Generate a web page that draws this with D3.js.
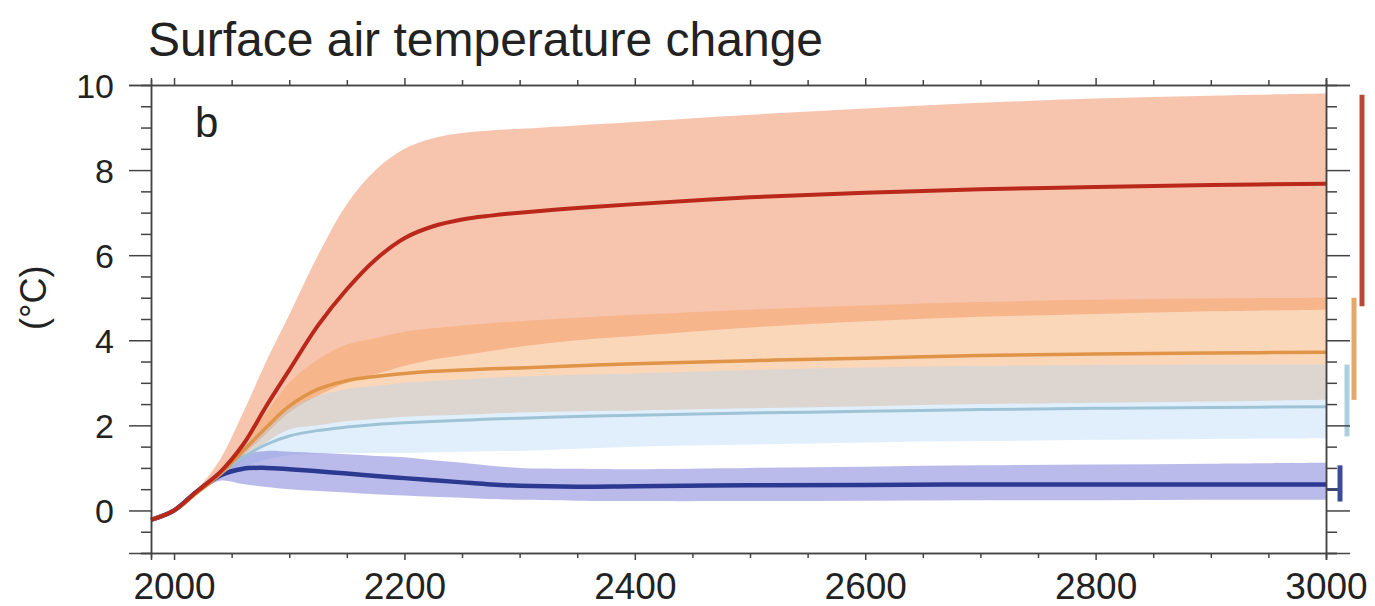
<!DOCTYPE html>
<html>
<head>
<meta charset="utf-8">
<script src="https://cdn.jsdelivr.net/npm/d3@7"></script>
<style>
  body { margin: 0; background: #fff; }
  text { font-family: "Liberation Sans", Arial, sans-serif; fill: #222; }
</style>
</head>
<body>
<div id="chart"></div>
<script>
// years shared by all scenarios
const years = [1980, 2000, 2020, 2040, 2060, 2080, 2100, 2125, 2150, 2175, 2200, 2225, 2250, 2275, 2300, 2350, 2400, 2500, 2600, 2700, 2800, 2900, 3000];

// red scenario
const redMean  = [-0.22, 0.0, 0.45, 0.9, 1.55, 2.45, 3.3, 4.35, 5.2, 5.9, 6.4, 6.68, 6.84, 6.93, 7.0, 7.11, 7.2, 7.36, 7.47, 7.55, 7.6, 7.65, 7.68];
const redHigh  = [-0.2, 0.02, 0.5, 1.2, 2.3, 3.5, 4.6, 6.0, 7.2, 8.0, 8.5, 8.75, 8.87, 8.93, 8.97, 9.05, 9.13, 9.3, 9.45, 9.58, 9.68, 9.75, 9.8];
const redLow   = [-0.25, -0.02, 0.4, 0.8, 1.3, 1.8, 2.3, 2.7, 3.0, 3.2, 3.4, 3.55, 3.65, 3.75, 3.85, 4.0, 4.1, 4.3, 4.45, 4.55, 4.62, 4.68, 4.72];
// orange scenario
const orangeMean = [-0.22, 0.0, 0.42, 0.85, 1.4, 1.95, 2.45, 2.85, 3.05, 3.15, 3.22, 3.27, 3.3, 3.33, 3.35, 3.4, 3.45, 3.52, 3.58, 3.64, 3.68, 3.7, 3.72];
const orangeHigh = [-0.2, 0.02, 0.47, 0.95, 1.6, 2.3, 3.0, 3.55, 3.9, 4.05, 4.2, 4.28, 4.35, 4.4, 4.45, 4.53, 4.6, 4.72, 4.82, 4.9, 4.95, 4.98, 5.0];
const orangeLow  = [-0.25, -0.02, 0.38, 0.75, 1.2, 1.6, 1.9, 2.0, 2.1, 2.15, 2.2, 2.23, 2.25, 2.28, 2.3, 2.33, 2.35, 2.4, 2.45, 2.5, 2.53, 2.56, 2.6];
// light blue scenario
const lblueMean = [-0.22, 0.0, 0.42, 0.85, 1.25, 1.55, 1.75, 1.88, 1.96, 2.02, 2.06, 2.09, 2.12, 2.15, 2.17, 2.21, 2.24, 2.29, 2.33, 2.37, 2.4, 2.42, 2.44];
const lblueHigh = [-0.2, 0.02, 0.47, 0.95, 1.5, 2.0, 2.4, 2.7, 2.85, 2.93, 3.0, 3.04, 3.08, 3.12, 3.15, 3.19, 3.22, 3.3, 3.36, 3.4, 3.42, 3.43, 3.43];
const lblueLow  = [-0.25, -0.02, 0.38, 0.75, 1.0, 1.2, 1.3, 1.33, 1.35, 1.35, 1.35, 1.37, 1.38, 1.39, 1.4, 1.45, 1.5, 1.55, 1.6, 1.63, 1.66, 1.68, 1.7];
// dark blue scenario
const dblueMean = [-0.22, 0.0, 0.45, 0.82, 0.98, 1.0, 0.97, 0.92, 0.87, 0.81, 0.76, 0.71, 0.66, 0.61, 0.58, 0.56, 0.57, 0.59, 0.6, 0.61, 0.61, 0.61, 0.61];
const dblueHigh = [-0.2, 0.02, 0.5, 0.95, 1.3, 1.4, 1.38, 1.35, 1.32, 1.28, 1.25, 1.18, 1.12, 1.05, 1.0, 0.98, 0.97, 1.0, 1.03, 1.06, 1.08, 1.1, 1.12];
const dblueLow  = [-0.25, -0.02, 0.4, 0.7, 0.62, 0.55, 0.5, 0.46, 0.42, 0.38, 0.35, 0.32, 0.3, 0.27, 0.25, 0.23, 0.22, 0.22, 0.23, 0.24, 0.24, 0.25, 0.25];

// ranges drawn as bars right of the plot (low, high)
const barLow  = [4.8, 2.6, 1.74, 0.21];
const barHigh = [9.77, 5.0, 3.43, 1.06];

const xTicks = [2000, 2200, 2400, 2600, 2800, 3000];
const yTicks = [0, 2, 4, 6, 8, 10];

const W = 1375, H = 606;
const margin = {top: 85, right: 49, bottom: 53, left: 151};

const svg = d3.select('#chart').append('svg')
  .attr('width', W)
  .attr('height', H);

const x = d3.scaleLinear().domain([1980, 3000]).range([margin.left, W - margin.right]);
const y = d3.scaleLinear().domain([-1, 10]).range([H - margin.bottom, margin.top]);

const scen = [
  {mean: redMean, hi: redHigh, lo: redLow, band: 'rgb(240,138,93)', bandOp: 0.5, line: '#b9281a', lw: 4, bar: '#b8483a', barX: 1362},
  {mean: orangeMean, hi: orangeHigh, lo: orangeLow, band: 'rgb(245,160,90)', bandOp: 0.42, line: '#df9448', lw: 3.5, bar: '#e2a86e', barX: 1354},
  {mean: lblueMean, hi: lblueHigh, lo: lblueLow, band: 'rgb(170,210,245)', bandOp: 0.36, line: '#9ec3d6', lw: 3, bar: '#aecfe0', barX: 1347},
  {mean: dblueMean, hi: dblueHigh, lo: dblueLow, band: 'rgb(120,120,215)', bandOp: 0.5, line: '#2b3990', lw: 4.5, bar: '#3d4a9c', barX: 1340}
];

const area = d3.area()
  .x((d, i) => x(years[i]))
  .y0(d => y(d[0]))
  .y1(d => y(d[1]))
  .curve(d3.curveCatmullRom.alpha(0.5));

const line = d3.line()
  .x((d, i) => x(years[i]))
  .y(d => y(d))
  .curve(d3.curveCatmullRom.alpha(0.5));

// bands
svg.append('g')
  .selectAll('path')
  .data(scen)
  .enter()
  .append('path')
  .attr('d', s => area(s.lo.map((v, i) => [v, s.hi[i]])))
  .attr('fill', s => s.band)
  .attr('fill-opacity', s => s.bandOp);

// mean lines, red on top
svg.append('g')
  .selectAll('path')
  .data(scen.slice().reverse())
  .enter()
  .append('path')
  .attr('d', s => line(s.mean))
  .attr('fill', 'none')
  .attr('stroke', s => s.line)
  .attr('stroke-width', s => s.lw);

// range bars at the right
svg.append('g')
  .selectAll('line')
  .data(scen)
  .enter()
  .append('line')
  .attr('x1', s => s.barX).attr('x2', s => s.barX)
  .attr('y1', (s, i) => y(barLow[i]))
  .attr('y2', (s, i) => y(barHigh[i]))
  .attr('stroke', s => s.bar)
  .attr('stroke-width', 5);

// stub joining the dark blue line to its bar
svg.append('line')
  .attr('x1', x(3000)).attr('x2', scen[3].barX)
  .attr('y1', y(dblueMean[dblueMean.length - 1]) + 5)
  .attr('y2', y(dblueMean[dblueMean.length - 1]) + 5)
  .attr('stroke', scen[3].bar)
  .attr('stroke-width', 3);

// axes
const axisColor = '#444';
const minorY = d3.range(-1, 10.01, 0.5).filter(v => yTicks.indexOf(v) < 0);
const minorX = d3.range(2000, 3001, 50).filter(v => xTicks.indexOf(v) < 0);

function styleAxis(g) {
  g.selectAll('path.domain').attr('stroke', axisColor).attr('stroke-width', 1.5);
  g.selectAll('.tick line').attr('stroke', axisColor).attr('stroke-width', 1.5);
}

// left
svg.append('g')
  .attr('transform', `translate(${margin.left},0)`)
  .call(d3.axisLeft(y).tickValues(yTicks).tickSize(22).tickPadding(15).tickFormat(d3.format('d')))
  .call(styleAxis)
  .call(g => g.selectAll('text').attr('font-size', 34).attr('fill', '#222')
    .attr('font-family', '"Liberation Sans", Arial, sans-serif').attr('dy', '0.36em'));
svg.append('g')
  .attr('transform', `translate(${margin.left},0)`)
  .call(d3.axisLeft(y).tickValues(minorY).tickSize(10).tickFormat(''))
  .call(styleAxis);

// right
svg.append('g')
  .attr('transform', `translate(${W - margin.right},0)`)
  .call(d3.axisRight(y).tickValues(yTicks).tickSize(24).tickFormat(''))
  .call(styleAxis);
svg.append('g')
  .attr('transform', `translate(${W - margin.right},0)`)
  .call(d3.axisRight(y).tickValues(minorY).tickSize(11).tickFormat(''))
  .call(styleAxis);

// bottom
svg.append('g')
  .attr('transform', `translate(0,${H - margin.bottom})`)
  .call(d3.axisBottom(x).tickValues(xTicks).tickSize(7).tickFormat(d3.format('d')))
  .call(styleAxis)
  .call(g => g.selectAll('text').attr('font-size', 37).attr('fill', '#222')
    .attr('font-family', '"Liberation Sans", Arial, sans-serif').attr('y', 46).attr('dy', 0));
svg.append('g')
  .attr('transform', `translate(0,${H - margin.bottom})`)
  .call(d3.axisBottom(x).tickValues(minorX).tickSize(5).tickFormat(''))
  .call(styleAxis);

// top
svg.append('g')
  .attr('transform', `translate(0,${margin.top})`)
  .call(d3.axisTop(x).tickValues(xTicks).tickSize(7).tickFormat(''))
  .call(styleAxis);
svg.append('g')
  .attr('transform', `translate(0,${margin.top})`)
  .call(d3.axisTop(x).tickValues(minorX).tickSize(5).tickFormat(''))
  .call(styleAxis);

// texts
svg.append('text')
  .attr('x', 148).attr('y', 56)
  .attr('font-size', 48)
  .text('Surface air temperature change');

svg.append('text')
  .attr('x', 195).attr('y', 137)
  .attr('font-size', 42)
  .text('b');

svg.append('text')
  .attr('transform', `translate(46,${y(5)}) rotate(-90)`)
  .attr('text-anchor', 'middle')
  .attr('font-size', 36)
  .text('(°C)');
</script>
</body>
</html>
